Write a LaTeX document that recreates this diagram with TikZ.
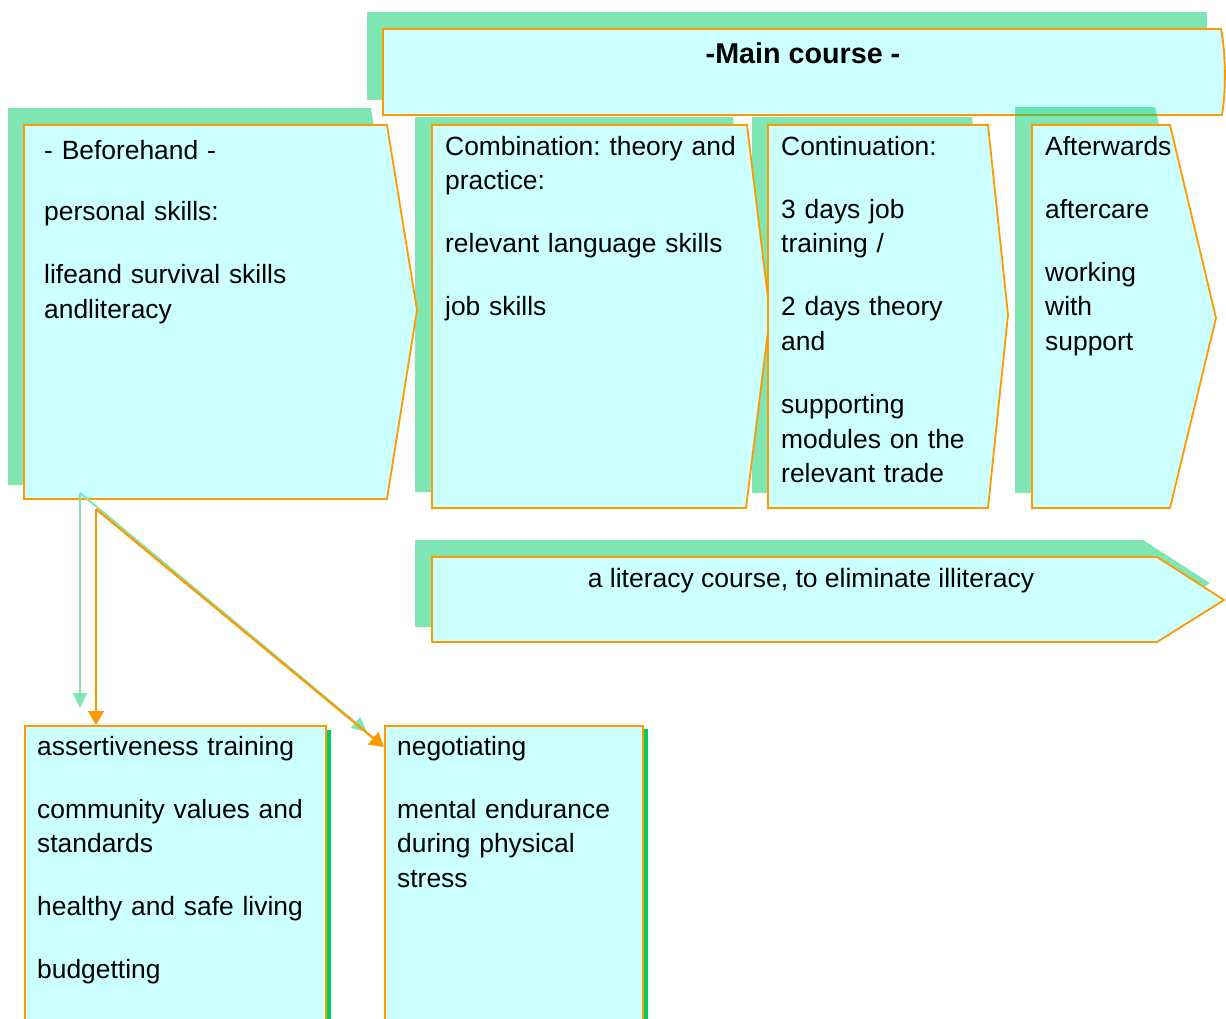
\documentclass[tikz,border=0pt]{standalone}
\usepackage{fontspec}
\setmainfont{Liberation Sans}
\usetikzlibrary{arrows.meta}
\definecolor{boxcyan}{RGB}{204,255,255}
\definecolor{boxorange}{RGB}{255,153,0}
\definecolor{shgreen}{RGB}{0,204,102}
\definecolor{argreen}{RGB}{128,229,179}
\frenchspacing
\begin{document}
\begin{tikzpicture}[x=1pt,y=-1pt,
  shadowfill/.style={fill=shgreen, fill opacity=0.5},
  frontbox/.style={fill=boxcyan, draw=boxorange, line width=1.8pt, line join=miter},
  strip/.style={fill=shgreen},
  bodytext/.style={anchor=base west, inner sep=0pt, align=left, text width=400pt,
    font=\fontsize{26.4}{34.7}\selectfont\frenchspacing},
  centertext/.style={anchor=base, inner sep=0pt, font=\fontsize{26.5}{34.7}\selectfont\frenchspacing},
  titletext/.style={anchor=base, inner sep=0pt, font=\fontsize{28.7}{34}\selectfont\bfseries},
  lowbox/.style={frontbox, rectangle, anchor=north west, inner sep=0pt, minimum height=310pt},
  garrow/.style={draw=argreen, line width=2pt, -{Triangle[length=15pt,width=14pt]}},
  oarrow/.style={draw=boxorange, line width=2.2pt, -{Triangle[length=14pt,width=16pt]}}
]
\useasboundingbox (0,0) rectangle (1226,1018);

% shadows behind main course
\fill[shadowfill] (367,12) rectangle (1207,100);
\fill[shadowfill] (8,108) -- (371,108) -- (401,295) -- (371,485) -- (8,485) -- cycle;
\fill[shadowfill] (415,117) -- (733,117) -- (755,303) -- (733,492) -- (415,492) -- cycle;
\fill[shadowfill] (752,117) -- (972,117) -- (992,300) -- (972,493) -- (752,493) -- cycle;

% main course
\draw[frontbox] (383,29) -- (1221,29) .. controls (1226,55) and (1226,90) .. (1222,115) -- (383,115) -- cycle;
\node[titletext] (maintitle) at (803,63) {-Main course -};

\fill[shadowfill] (1015,107) -- (1155,107) -- (1200,300) -- (1155,493) -- (1015,493) -- cycle;

% phase boxes
\draw[frontbox] (24,125) -- (387,125) -- (417,310) -- (387,499) -- (24,499) -- cycle;
\draw[frontbox] (432,125) -- (747,125) -- (770,315) -- (746,508) -- (432,508) -- cycle;
\draw[frontbox] (768,125) -- (988,125) -- (1008,315) -- (988,508) -- (768,508) -- cycle;
\draw[frontbox] (1032,125) -- (1170,125) -- (1216,318) -- (1170,508) -- (1032,508) -- cycle;

\node[bodytext] (beforetext) at (44,159) {- Beforehand -\\[27pt]personal skills:\\[28.3pt]lifeand survival skills\\andliteracy};
\node[bodytext] (combtext) at (445,155) {Combination: theory and\\practice:\\[28.3pt]relevant language skills\\[28.3pt]job skills};
\node[bodytext] (conttext) at (781,155) {Continuation:\\[28.3pt]3 days job\\training /\\[28.3pt]2 days theory\\and\\[28.3pt]supporting\\modules on the\\relevant trade};
\node[bodytext] (aftertext) at (1045,155) {Afterwards\\[28.3pt]aftercare\\[28.3pt]working\\with\\support};

% literacy course
\fill[shadowfill] (415,540) -- (1143,540) -- (1210,583) -- (1143,627) -- (415,627) -- cycle;
\draw[frontbox] (432,557) -- (1157,557) -- (1224,600) -- (1157,642) -- (432,642) -- cycle;
\node[centertext] (littext) at (811,587) {a literacy course, to eliminate illiteracy};

% lower boxes
\fill[strip] (325,730) rectangle (331,1030);
\fill[strip] (641,729) rectangle (648,1030);
\node[lowbox, minimum width=301pt] (bl) at (24,725) {};
\node[lowbox, minimum width=258pt] (br) at (384,725) {};
\node[bodytext] (bltext) at (37,755) {assertiveness training\\[28.3pt]community values and\\standards\\[28.3pt]healthy and safe living\\[28.3pt]budgetting};
\node[bodytext] (brtext) at (397,755) {negotiating\\[28.3pt]mental endurance\\during physical\\stress};

% connectors
\coordinate (gstart) at (80,493);
\coordinate (ostart) at (96,509);
\coordinate (gend1) at (80,708);
\coordinate (gend2) at (367,732);
\coordinate (oend2) at (384,747);
\draw[garrow] (gstart) -- (gend1);
\draw[garrow] (gstart) -- (gend2);
\draw[oarrow] (ostart) -- (ostart |- bl.north);
\draw[oarrow] (ostart) -- (oend2);
\end{tikzpicture}
\end{document}
